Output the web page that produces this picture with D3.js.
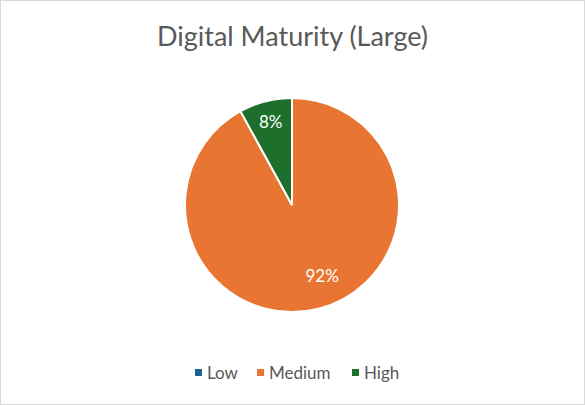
<!DOCTYPE html>
<html>
<head>
<meta charset="utf-8">
<script src="https://cdn.jsdelivr.net/npm/d3@7"></script>
<style>
  body { margin: 0; background: #fff; }
  text { font-family: Lato, "Open Sans", sans-serif; }
</style>
</head>
<body>
<div id="chart"></div>
<script>
var categories = ['Low', 'Medium', 'High'];
var values = [0, 92, 8];
var colors = ['#1f6391', '#e97532', '#1e6e2c'];

var width = 585, height = 405;
var cx = 292, cy = 205, radius = 107;

var svg = d3.select('#chart').append('svg')
    .attr('width', width)
    .attr('height', height);

svg.append('rect')
    .attr('x', 0.5).attr('y', 0.5)
    .attr('width', width - 1).attr('height', height - 1)
    .attr('fill', '#fff')
    .attr('stroke', '#d9d9d9');

svg.append('text')
    .attr('x', width / 2)
    .attr('y', 46)
    .attr('text-anchor', 'middle')
    .attr('font-size', 27)
    .attr('fill', '#595959')
    .text('Digital Maturity (Large)');

var data = categories.map((c, i) => ({ name: c, value: values[i], color: colors[i] }));

var pie = d3.pie().sort(null).value(d => d.value);
var arc = d3.arc().innerRadius(0).outerRadius(radius);

// label placement roughly like excel's best fit
var labelPos = { Medium: { r: 0.72, da: -0.15 }, High: { r: 0.8, da: 0 } };

var g = svg.append('g').attr('transform', `translate(${cx},${cy})`);
var arcs = pie(data);

g.selectAll('path')
    .data(arcs.filter(d => d.value > 0))
    .enter().append('path')
    .attr('d', arc)
    .attr('fill', d => d.data.color)
    .attr('stroke', '#fff')
    .attr('stroke-width', 2);

var total = d3.sum(values);
g.selectAll('.lbl')
    .data(arcs.filter(d => d.value > 0))
    .enter().append('text')
    .attr('class', 'lbl')
    .attr('transform', d => {
        var p = labelPos[d.data.name];
        var a = (d.startAngle + d.endAngle) / 2 + p.da;
        var r = radius * p.r;
        return `translate(${r * Math.sin(a)},${-r * Math.cos(a)})`;
    })
    .attr('text-anchor', 'middle')
    .attr('dy', '0.35em')
    .attr('font-size', 17)
    .attr('fill', '#fff')
    .text(d => Math.round(d.value / total * 100) + '%');

var legendX = [195, 257, 352];
var legend = svg.append('g');
data.forEach((d, i) => {
    var lg = legend.append('g').attr('transform', `translate(${legendX[i]},373)`);
    lg.append('rect').attr('x', 0).attr('y', -4).attr('width', 7).attr('height', 7).attr('fill', d.color);
    lg.append('text').attr('x', 12).attr('y', 0).attr('dy', '0.35em')
        .attr('font-size', 17).attr('fill', '#595959').text(d.name);
});
</script>
</body>
</html>
